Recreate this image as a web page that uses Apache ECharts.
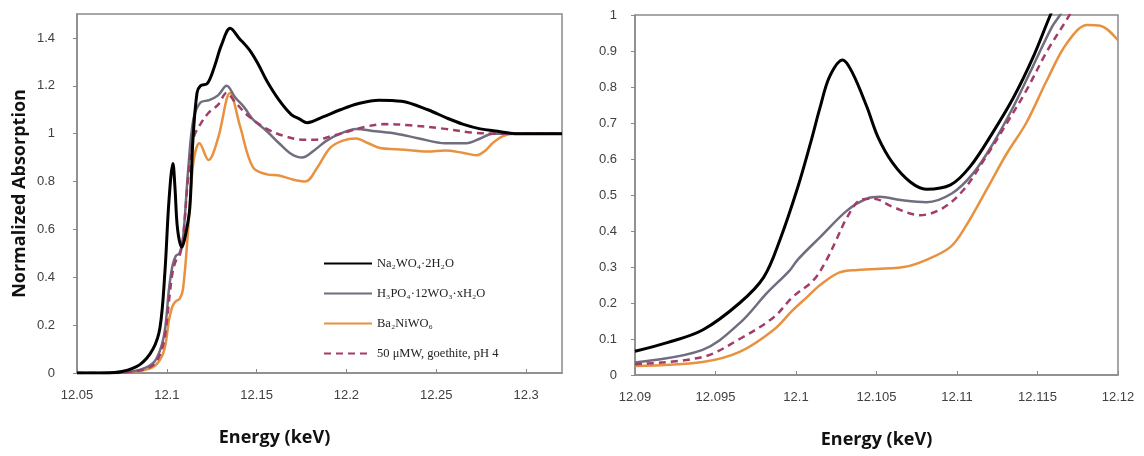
<!DOCTYPE html>
<html>
<head>
<meta charset="utf-8">
<script src="https://cdn.jsdelivr.net/npm/echarts@6/dist/echarts.min.js"></script>
<style>
  html, body { margin: 0; padding: 0; background: #fff; }
  #chart { width: 1144px; height: 456px; }
</style>
</head>
<body>
<div id="chart"></div>
<script>
// series names (legend)
const names = ["Na\u2082WO\u2084\u00b72H\u2082O", "H\u2083PO\u2084\u00b712WO\u2083\u00b7xH\u2082O", "Ba\u2082NiWO\u2086", "50 \u03bcMW, goethite, pH 4"];
const colors = ["#000000", "#6f6d7e", "#e8913f", "#a23d6a"];

// left panel: full spectra
const naE = [12.05, 12.065, 12.075, 12.085, 12.0923, 12.0962, 12.0989, 12.1012, 12.1034, 12.1045, 12.106, 12.1084, 12.1105, 12.1128, 12.1145, 12.1168, 12.1187, 12.1226, 12.1265, 12.1304, 12.1353, 12.1401, 12.146, 12.1509, 12.1557, 12.1625, 12.1693, 12.1742, 12.1781, 12.1869, 12.1966, 12.2063, 12.218, 12.2307, 12.2453, 12.256, 12.2647, 12.2745, 12.2842, 12.2939, 12.32];
const naV = [0, 0, 0.006, 0.035, 0.1, 0.19, 0.417, 0.72, 0.875, 0.78, 0.6, 0.525, 0.58, 0.69, 0.97, 1.17, 1.2, 1.21, 1.28, 1.37, 1.44, 1.4, 1.35, 1.29, 1.22, 1.14, 1.08, 1.06, 1.046, 1.07, 1.1, 1.125, 1.14, 1.135, 1.1, 1.065, 1.04, 1.02, 1.01, 1.0, 1.0];

const hpE = [12.05, 12.0701, 12.0798, 12.0876, 12.0934, 12.0973, 12.0993, 12.1012, 12.1032, 12.1051, 12.1071, 12.109, 12.1119, 12.1148, 12.1187, 12.1236, 12.1285, 12.1333, 12.1382, 12.1431, 12.1479, 12.1557, 12.1625, 12.1693, 12.1752, 12.182, 12.1888, 12.1966, 12.2053, 12.2161, 12.2277, 12.2404, 12.255, 12.2667, 12.2745, 12.2813, 12.2939, 12.32];
const hpV = [0, 0, 0.005, 0.02, 0.05, 0.12, 0.2, 0.35, 0.45, 0.49, 0.5, 0.56, 0.85, 1.06, 1.13, 1.14, 1.16, 1.2, 1.15, 1.11, 1.06, 1.01, 0.96, 0.915, 0.9, 0.93, 0.97, 1.0, 1.02, 1.01, 1.0, 0.98, 0.96, 0.96, 0.98, 1.0, 1.0, 1.0];

const baE = [12.05, 12.0701, 12.0798, 12.0876, 12.0934, 12.0973, 12.0993, 12.1012, 12.1032, 12.1051, 12.1071, 12.109, 12.1119, 12.1148, 12.1182, 12.1232, 12.1285, 12.1352, 12.1408, 12.1479, 12.1557, 12.1625, 12.1693, 12.1771, 12.1839, 12.1908, 12.1976, 12.2053, 12.2122, 12.2186, 12.2277, 12.2369, 12.2453, 12.255, 12.2647, 12.2725, 12.2774, 12.2813, 12.2871, 12.2939, 12.32];
const baV = [0, 0, 0.004, 0.012, 0.03, 0.07, 0.12, 0.22, 0.28, 0.3, 0.31, 0.35, 0.6, 0.88, 0.96, 0.89, 0.98, 1.17, 1.03, 0.86, 0.83, 0.825, 0.81, 0.8, 0.86, 0.94, 0.97, 0.98, 0.96, 0.94, 0.935, 0.93, 0.925, 0.93, 0.92, 0.91, 0.93, 0.96, 0.99, 1.0, 1.0];

const gtE = [12.05, 12.0701, 12.0798, 12.0876, 12.0934, 12.0973, 12.0993, 12.1012, 12.1032, 12.1051, 12.1071, 12.109, 12.1119, 12.1148, 12.1187, 12.1236, 12.1285, 12.1333, 12.1382, 12.146, 12.1557, 12.1654, 12.1752, 12.183, 12.1917, 12.2015, 12.2112, 12.2209, 12.2355, 12.255, 12.2696, 12.2842, 12.32];
const gtV = [0, 0, 0.005, 0.015, 0.04, 0.1, 0.17, 0.3, 0.42, 0.47, 0.49, 0.56, 0.82, 0.98, 1.04, 1.09, 1.12, 1.17, 1.13, 1.07, 1.02, 0.99, 0.975, 0.975, 0.99, 1.01, 1.03, 1.04, 1.035, 1.02, 1.005, 1.0, 1.0];

// right panel: pre-edge zoom
const naZE = [12.09, 12.092, 12.0942, 12.0965, 12.098, 12.099, 12.1001, 12.1009, 12.1015, 12.1021, 12.1029, 12.1035, 12.1044, 12.1051, 12.106, 12.1071, 12.1081, 12.1096, 12.1108, 12.1122, 12.1135, 12.1147, 12.1158, 12.1166];
const naZV = [0.066, 0.09, 0.125, 0.2, 0.272, 0.375, 0.52, 0.644, 0.744, 0.83, 0.875, 0.84, 0.745, 0.66, 0.589, 0.536, 0.516, 0.528, 0.578, 0.672, 0.77, 0.88, 1.0, 1.08];

const hpZE = [12.09, 12.0942, 12.0965, 12.0982, 12.0996, 12.1001, 12.1015, 12.1032, 12.1044, 12.1052, 12.1065, 12.1081, 12.1097, 12.111, 12.1122, 12.1135, 12.1147, 12.1159, 12.1164, 12.1172];
const hpZV = [0.035, 0.07, 0.144, 0.228, 0.29, 0.32, 0.383, 0.458, 0.49, 0.495, 0.486, 0.48, 0.505, 0.56, 0.64, 0.745, 0.856, 0.967, 1.0, 1.06];

const baZE = [12.09, 12.0942, 12.0965, 12.0986, 12.0998, 12.1007, 12.1015, 12.1027, 12.1038, 12.1067, 12.1081, 12.1096, 12.1105, 12.1119, 12.1131, 12.1143, 12.1156, 12.1168, 12.1181, 12.1189, 12.12];
const baZV = [0.025, 0.036, 0.064, 0.125, 0.18, 0.217, 0.25, 0.285, 0.292, 0.3, 0.32, 0.356, 0.41, 0.52, 0.616, 0.7, 0.82, 0.92, 0.972, 0.97, 0.93];

const gtZE = [12.09, 12.0942, 12.0965, 12.0986, 12.0998, 12.1011, 12.1019, 12.1025, 12.1032, 12.104, 12.1048, 12.106, 12.1077, 12.1091, 12.1104, 12.1118, 12.1131, 12.1143, 12.1156, 12.1168, 12.1175];
const gtZV = [0.03, 0.05, 0.1, 0.16, 0.217, 0.264, 0.32, 0.375, 0.44, 0.486, 0.49, 0.467, 0.444, 0.463, 0.514, 0.606, 0.7, 0.79, 0.9, 0.986, 1.04];

const pairs = (xs, ys) => xs.map((x, i) => [x, ys[i]]);

const chart = echarts.init(document.getElementById("chart"));

const axisGray = "#8a8a8a";
const labelStyle = { color: "#404040", fontSize: 13, fontFamily: "Liberation Sans" };
const nameStyle = { color: "#111", fontSize: 18, fontWeight: "bold", fontFamily: "Open Sans" };

function line(idx, name, data, xi) {
  return {
    type: "line",
    name: name,
    xAxisIndex: xi,
    yAxisIndex: xi,
    data: data,
    showSymbol: false,
    symbol: "none",
    smooth: 0.35,
    z: idx === 0 ? 5 : 3,
    lineStyle: {
      color: colors[idx],
      width: idx === 0 ? 3 : 2.5,
      type: idx === 3 ? [7, 5] : "solid"
    },
    itemStyle: { color: colors[idx] }
  };
}

const option = {
  backgroundColor: "#fff",
  animation: false,
  grid: [
    { left: 77, top: 14, width: 485, height: 359, show: true, borderColor: axisGray, borderWidth: 1.5, backgroundColor: "transparent" },
    { left: 635, top: 15, width: 483, height: 360, show: true, borderColor: axisGray, borderWidth: 1.5, backgroundColor: "transparent" }
  ],
  legend: {
    orient: "vertical",
    left: 318,
    top: 252,
    itemWidth: 48,
    itemHeight: 14,
    itemGap: 17,
    data: names,
    itemStyle: { opacity: 0 },
    textStyle: { fontFamily: "Liberation Serif", fontSize: 12.5, color: "#222" }
  },
  xAxis: [
    {
      type: "value", gridIndex: 0, min: 12.05, max: 12.32, interval: 0.05,
      name: "Energy (keV)", nameLocation: "middle", nameGap: 56,
      nameTextStyle: Object.assign({ padding: [0, 90, 0, 0] }, nameStyle),
      axisLine: { lineStyle: { color: axisGray, width: 1.5 } },
      axisTick: { inside: true, length: 4, lineStyle: { color: axisGray } },
      axisLabel: Object.assign({ margin: 16, showMaxLabel: false, formatter: v => String(parseFloat(v.toFixed(2))) }, labelStyle),
      splitLine: { show: false }
    },
    {
      type: "value", gridIndex: 1, min: 12.09, max: 12.12, interval: 0.005,
      name: "Energy (keV)", nameLocation: "middle", nameGap: 56,
      nameTextStyle: nameStyle,
      axisLine: { lineStyle: { color: axisGray, width: 1.5 } },
      axisTick: { inside: true, length: 4, lineStyle: { color: axisGray } },
      axisLabel: Object.assign({ margin: 16, formatter: v => String(parseFloat(v.toFixed(3))) }, labelStyle),
      splitLine: { show: false }
    }
  ],
  yAxis: [
    {
      type: "value", gridIndex: 0, min: 0, max: 1.5, interval: 0.2,
      name: "Normalized Absorption", nameLocation: "middle", nameGap: 48,
      nameTextStyle: nameStyle,
      axisLine: { show: true, lineStyle: { color: axisGray, width: 1.5 } },
      axisTick: { show: true, length: 4, lineStyle: { color: axisGray } },
      axisLabel: Object.assign({ margin: 22, showMaxLabel: false, formatter: v => String(parseFloat(v.toFixed(1))) }, labelStyle),
      splitLine: { show: false }
    },
    {
      type: "value", gridIndex: 1, min: 0, max: 1, interval: 0.1,
      axisLine: { show: true, lineStyle: { color: axisGray, width: 1.5 } },
      axisTick: { show: true, length: 4, lineStyle: { color: axisGray } },
      axisLabel: Object.assign({ margin: 18, formatter: v => String(parseFloat(v.toFixed(1))) }, labelStyle),
      splitLine: { show: false }
    }
  ],
  series: [
    line(2, names[2], pairs(baE, baV), 0),
    line(1, names[1], pairs(hpE, hpV), 0),
    line(3, names[3], pairs(gtE, gtV), 0),
    line(0, names[0], pairs(naE, naV), 0),
    line(2, names[2], pairs(baZE, baZV), 1),
    line(1, names[1], pairs(hpZE, hpZV), 1),
    line(3, names[3], pairs(gtZE, gtZV), 1),
    line(0, names[0], pairs(naZE, naZV), 1)
  ]
};

chart.setOption(option);
</script>
</body>
</html>
